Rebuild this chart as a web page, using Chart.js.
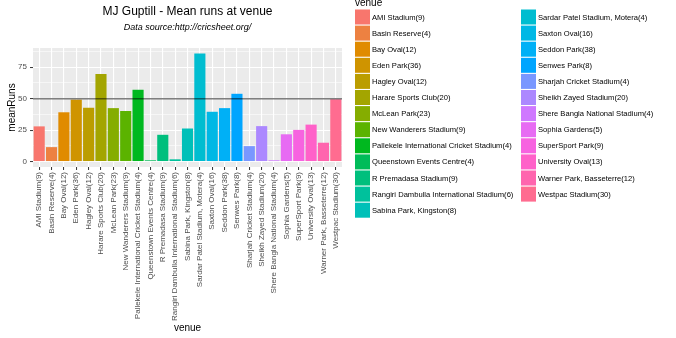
<!DOCTYPE html>
<html>
<head>
<meta charset="utf-8">
<title>MJ Guptill - Mean runs at venue</title>
<script src="https://cdn.jsdelivr.net/npm/chart.js@4"></script>
<style>
  html, body { margin: 0; padding: 0; background: #fff; }
  canvas { display: block; }
</style>
</head>
<body>
<canvas id="myChart" width="676" height="338"></canvas>
<script>
// venue (innings played there)
const venues = [
    'AMI Stadium(9)', 'Basin Reserve(4)', 'Bay Oval(12)', 'Eden Park(36)',
    'Hagley Oval(12)', 'Harare Sports Club(20)', 'McLean Park(23)',
    'New Wanderers Stadium(9)', 'Pallekele International Cricket Stadium(4)',
    'Queenstown Events Centre(4)', 'R Premadasa Stadium(9)',
    'Rangiri Dambulla International Stadium(6)', 'Sabina Park, Kingston(8)',
    'Sardar Patel Stadium, Motera(4)', 'Saxton Oval(16)', 'Seddon Park(38)',
    'Senwes Park(8)', 'Sharjah Cricket Stadium(4)', 'Sheikh Zayed Stadium(20)',
    'Shere Bangla National Stadium(4)', 'Sophia Gardens(5)', 'SuperSport Park(9)',
    'University Oval(13)', 'Warner Park, Basseterre(12)', 'Westpac Stadium(30)'
];

// mean runs scored at each venue
const meanRuns = [
    28, 11.5, 39.2, 49.2,
    42.8, 69.7, 42.5,
    40.2, 57.1,
    1, 21.3,
    1.8, 26.3,
    86, 39.6, 42.5,
    53.9, 12.3, 28.2,
    1, 21.7, 25.2,
    29.4, 15, 49.5
];

const yTicks = [0, 25, 50, 75];              // labelled breaks
const yMinorTicks = [12.5, 37.5, 62.5, 87.5]; // unlabelled minor breaks
const refLine = 50;                           // horizontal reference at 50 runs

// ggplot-style hue palette: equally spaced hues in HCL, l = 65, c = 100
function huePal(n) {
    const out = [];
    const L = 65, C = 100;
    const un = 0.197839, vn = 0.468342;
    const gam = v => {
        v = v <= 0.0031308 ? 12.92 * v : 1.055 * Math.pow(v, 1 / 2.4) - 0.055;
        return Math.round(Math.min(1, Math.max(0, v)) * 255);
    };
    for (let i = 0; i < n; i++) {
        const h = (15 + 360 * i / n) * Math.PI / 180;
        const U = C * Math.cos(h), V = C * Math.sin(h);
        const Y = Math.pow((L + 16) / 116, 3);
        const up = U / (13 * L) + un, vp = V / (13 * L) + vn;
        const X = 9 * Y * up / (4 * vp);
        const Z = Y * (12 - 3 * up - 20 * vp) / (4 * vp);
        const r = 3.2404542 * X - 1.5371385 * Y - 0.4985314 * Z;
        const g = -0.9692660 * X + 1.8760108 * Y + 0.0415560 * Z;
        const b = 0.0556434 * X - 0.2040259 * Y + 1.0572252 * Z;
        out.push(`rgb(${gam(r)}, ${gam(g)}, ${gam(b)})`);
    }
    return out;
}

const barColors = huePal(venues.length);
const fontFamily = '"Liberation Sans", Arial, sans-serif';
Chart.defaults.font.family = fontFamily;

// grey panel behind the bars
const panelBg = {
    id: 'panelBg',
    beforeDraw(chart) {
        const {ctx, chartArea: a} = chart;
        ctx.save();
        ctx.fillStyle = '#EBEBEB';
        ctx.fillRect(a.left, a.top, a.right - a.left, a.bottom - a.top);
        ctx.restore();
    }
};

// the 50-run line across the panel
const refLinePlugin = {
    id: 'refLine',
    afterDatasetsDraw(chart) {
        const {ctx, chartArea: a, scales} = chart;
        const y = scales.y.getPixelForValue(refLine);
        ctx.save();
        ctx.strokeStyle = 'rgba(0, 0, 0, 0.5)';
        ctx.lineWidth = 1.6;
        ctx.beginPath();
        ctx.moveTo(a.left, y);
        ctx.lineTo(a.right, y);
        ctx.stroke();
        ctx.restore();
    }
};

// two-column legend with square keys to the right of the panel
const venueLegend = {
    id: 'venueLegend',
    afterDraw(chart) {
        const {ctx} = chart;
        const labels = chart.data.labels;
        const colors = chart.data.datasets[0].backgroundColor;
        const perCol = Math.ceil(labels.length / 2);
        const colX = [355, 521];
        const keySize = 15, rowStep = 16.1, firstTop = 9.5;
        ctx.save();
        ctx.fillStyle = '#000';
        ctx.font = `10px ${fontFamily}`;
        ctx.textBaseline = 'alphabetic';
        ctx.fillText('venue', colX[0], 5.5);

        ctx.font = `7.6px ${fontFamily}`;
        ctx.textBaseline = 'middle';
        labels.forEach((label, i) => {
            const col = Math.floor(i / perCol);
            const row = i % perCol;
            const x = colX[col];
            const y = firstTop + row * rowStep;
            ctx.fillStyle = colors[i];
            ctx.fillRect(x, y, keySize, keySize);
            ctx.fillStyle = '#000';
            ctx.fillText(label, x + keySize + 2, y + keySize / 2 + 0.5);
        });
        ctx.restore();
    }
};

const ctx = document.getElementById('myChart');
new Chart(ctx, {
    type: 'bar',
    data: {
        labels: venues,
        datasets: [{
            label: 'meanRuns',
            data: meanRuns,
            backgroundColor: barColors,
            borderWidth: 0,
            barPercentage: 0.9,
            categoryPercentage: 1
        }]
    },
    options: {
        responsive: false,
        animation: false,
        layout: { padding: { left: 0, right: 334, top: 0, bottom: 0 } },
        scales: {
            x: {
                offset: true,
                afterFit(scale) { scale.height = 171; },
                grid: {
                    offset: false,
                    color: '#FFFFFF',
                    lineWidth: 1.1,
                    tickLength: 3,
                    tickColor: '#333333',
                    tickWidth: 1
                },
                border: { display: false },
                ticks: {
                    autoSkip: false,
                    minRotation: 90,
                    maxRotation: 90,
                    padding: 2,
                    color: '#4D4D4D',
                    font: { size: 8 }
                },
                title: {
                    display: true,
                    text: 'venue',
                    color: '#000',
                    font: { size: 10 },
                    padding: { top: 4, bottom: 4 }
                }
            },
            y: {
                min: -4.3,
                max: 90.3,
                afterFit(scale) { scale.width = 33; },
                afterBuildTicks(scale) {
                    scale.ticks = yTicks.concat(yMinorTicks)
                        .sort((a, b) => a - b)
                        .map(v => ({ value: v }));
                },
                grid: {
                    color: '#FFFFFF',
                    lineWidth: c => (yTicks.includes(c.tick.value) ? 1.1 : 0.55),
                    tickLength: 3,
                    tickColor: c => (yTicks.includes(c.tick.value) ? '#333333' : 'rgba(0,0,0,0)'),
                    tickWidth: 1
                },
                border: { display: false },
                ticks: {
                    padding: 3,
                    color: '#4D4D4D',
                    font: { size: 8 },
                    callback: v => (yTicks.includes(v) ? String(v) : '')
                },
                title: {
                    display: true,
                    text: 'meanRuns',
                    color: '#000',
                    font: { size: 10 },
                    padding: { top: 6, bottom: 2 }
                }
            }
        },
        plugins: {
            legend: { display: false },
            tooltip: { enabled: false },
            title: {
                display: true,
                fullSize: false,
                text: 'MJ Guptill - Mean runs at venue',
                color: '#000',
                font: { size: 12, weight: 'normal' },
                padding: { top: 4, bottom: 0 }
            },
            subtitle: {
                display: true,
                fullSize: false,
                text: 'Data source:http://cricsheet.org/',
                color: '#000',
                font: { size: 9, style: 'italic' },
                padding: { top: 4, bottom: 14.8 }
            }
        }
    },
    plugins: [panelBg, refLinePlugin, venueLegend]
});
</script>
</body>
</html>
